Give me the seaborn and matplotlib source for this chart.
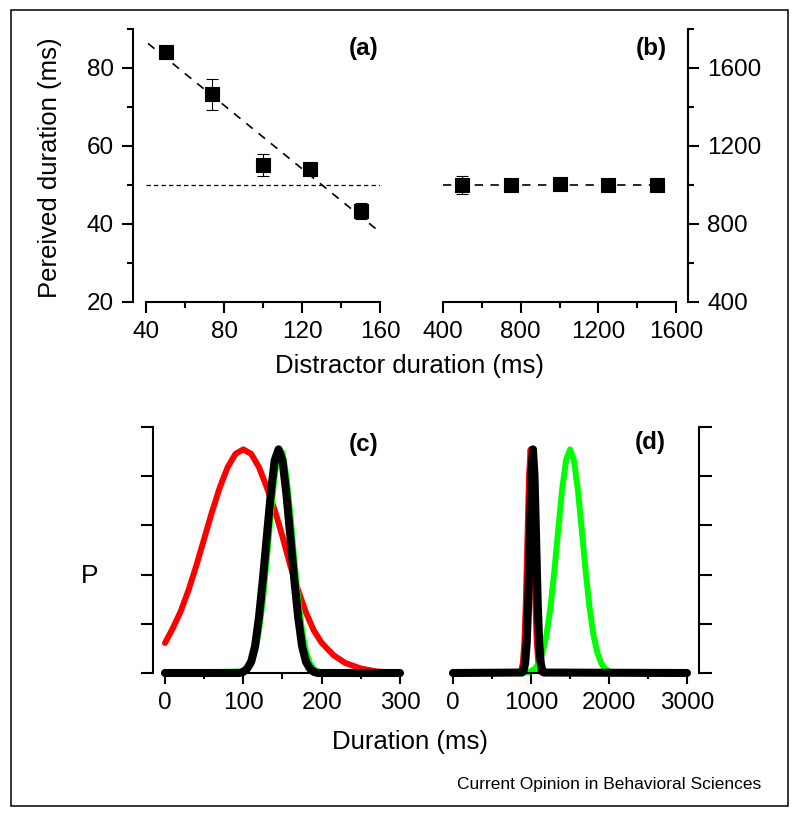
import matplotlib
matplotlib.use("Agg")
import matplotlib.pyplot as plt
import seaborn as sns
from matplotlib.patches import Rectangle
from matplotlib.ticker import MultipleLocator, FixedLocator

# ---- panel (a): short distractors ----
a_dist = [50, 74, 100, 124, 150]
a_perc = [84.2, 73.3, 55.1, 54.0, 43.3]
a_err = [1.0, 4.0, 2.8, 1.5, 2.0]
a_fit_x = [41, 160]
a_fit_y = [86.3, 37.9]
a_ref_x = [40, 160]
a_ref_y = [50, 50]

# ---- panel (b): long distractors ----
b_dist = [500, 750, 1000, 1250, 1500]
b_perc = [1000, 1000, 1005, 998, 1000]
b_err = [48, 10, 10, 12, 8]
b_fit_x = [400, 1545]
b_fit_y = [1000, 1000]

# ---- panel (c): distributions, short range ----
c_red_x = [0, 10, 20, 30, 40, 50, 60, 70, 80, 90, 100, 110, 120, 130, 140,
           150, 160, 170, 180, 190, 200, 215, 230, 250, 270, 300]
c_red_p = [0.134, 0.20, 0.275, 0.37, 0.48, 0.60, 0.72, 0.83, 0.92, 0.98, 1.0,
           0.98, 0.92, 0.83, 0.73, 0.61, 0.48, 0.37, 0.27, 0.19, 0.135, 0.08,
           0.045, 0.02, 0.007, 0.0]
c_green_x = [0, 100, 105, 110, 115, 120, 125, 130, 135, 140, 145, 150, 155,
             160, 165, 170, 175, 180, 185, 190, 195, 200, 300]
c_green_p = [0, 0.007, 0.018, 0.044, 0.096, 0.19, 0.325, 0.51, 0.71, 0.88,
             0.986, 0.986, 0.88, 0.71, 0.51, 0.325, 0.19, 0.096, 0.044, 0.018,
             0.007, 0, 0]
c_black_x = [0, 95, 100, 105, 110, 115, 120, 125, 130, 135, 140, 145, 150,
             155, 160, 165, 170, 175, 180, 185, 190, 195, 300]
c_black_p = [0, 0, 0.005, 0.02, 0.05, 0.12, 0.25, 0.42, 0.61, 0.80, 0.95, 1.0,
             0.95, 0.80, 0.61, 0.42, 0.25, 0.12, 0.05, 0.02, 0.005, 0, 0]

# ---- panel (d): distributions, long range ----
d_red_x = [0, 855, 875, 895, 915, 935, 955, 975, 995, 1015, 1035, 1055, 1075,
           1095, 1115, 1135, 3000]
d_red_p = [0, 0.002, 0.011, 0.044, 0.135, 0.325, 0.607, 0.883, 1.0, 0.883,
           0.607, 0.325, 0.135, 0.044, 0.011, 0.002, 0]
d_green_x = [0, 950, 1000, 1050, 1100, 1150, 1200, 1250, 1300, 1350, 1400,
             1450, 1500, 1550, 1600, 1650, 1700, 1750, 1800, 1850, 1900, 1950,
             2000, 2050, 3000]
d_green_p = [0, 0.003, 0.008, 0.019, 0.044, 0.092, 0.172, 0.295, 0.458, 0.644,
             0.823, 0.952, 1.0, 0.952, 0.823, 0.644, 0.458, 0.295, 0.172, 0.092,
             0.044, 0.019, 0.008, 0.003, 0]
d_black_x = [0, 885, 905, 925, 945, 965, 985, 1005, 1025, 1045, 1065, 1085,
             1105, 1125, 1145, 1165, 3000]
d_black_p = [0, 0.002, 0.011, 0.044, 0.135, 0.325, 0.607, 0.883, 1.0, 0.883,
             0.607, 0.325, 0.135, 0.044, 0.011, 0.002, 0]

sns.set_theme(style="ticks")
plt.rcParams['font.family'] = ['Liberation Sans', 'DejaVu Sans']
plt.rcParams['text.color'] = 'black'
plt.rcParams['axes.labelcolor'] = 'black'
plt.rcParams['xtick.color'] = 'black'
plt.rcParams['ytick.color'] = 'black'

W, H = 800, 818
fig = plt.figure(figsize=(W / 100, H / 100), dpi=100)


def px_axes(left, top, right, bottom):
    return fig.add_axes([left / W, 1 - bottom / H, (right - left) / W, (bottom - top) / H])


def style(ax, yside='left'):
    ax.set_facecolor('white')
    for s in ['top', 'right', 'left', 'bottom']:
        ax.spines[s].set_linewidth(1.5)
        ax.spines[s].set_color('black')
    ax.spines['top'].set_visible(False)
    if yside == 'left':
        ax.spines['right'].set_visible(False)
    else:
        ax.spines['left'].set_visible(False)
        ax.yaxis.tick_right()
    ax.tick_params(which='major', direction='out', length=8, width=1.5,
                   labelsize=17.5, pad=6, color='black', labelcolor='black')
    ax.tick_params(which='minor', direction='out', length=4.5, width=1.5, color='black')
    ax.grid(False)


# (a)
ax = px_axes(133, 29, 380, 302)
style(ax, 'left')
ax.set_xlim(33.3, 160)
ax.set_ylim(20, 90)
ax.spines['bottom'].set_bounds(40, 160)
ax.xaxis.set_major_locator(MultipleLocator(40))
ax.xaxis.set_minor_locator(FixedLocator([60, 100, 140]))
ax.yaxis.set_major_locator(FixedLocator([20, 40, 60, 80]))
ax.yaxis.set_minor_locator(FixedLocator([30, 50, 70, 90]))
sns.lineplot(x=a_ref_x, y=a_ref_y, color='black', linewidth=0.9,
             linestyle=(0, (3.5, 2.5)), ax=ax)
sns.lineplot(x=a_fit_x, y=a_fit_y, color='black', linewidth=1.2,
             linestyle=(0, (5, 4.5)), ax=ax)
ax.errorbar(a_dist, a_perc, yerr=a_err, fmt='none', ecolor='black',
            elinewidth=0.8, capsize=4.3, capthick=0.8, zorder=3)
sns.scatterplot(x=a_dist, y=a_perc, marker='s', s=100, color='black',
                edgecolor='black', ax=ax, zorder=4)

# (b)
ax = px_axes(443, 29, 688, 302)
style(ax, 'right')
ax.set_xlim(400, 1661.8)
ax.set_ylim(400, 1800)
ax.spines['bottom'].set_bounds(400, 1600)
ax.xaxis.set_major_locator(FixedLocator([400, 800, 1200, 1600]))
ax.xaxis.set_minor_locator(FixedLocator([600, 1000, 1400]))
ax.yaxis.set_major_locator(FixedLocator([400, 800, 1200, 1600]))
ax.yaxis.set_minor_locator(FixedLocator([600, 1000, 1400, 1800]))
sns.lineplot(x=b_fit_x, y=b_fit_y, color='black', linewidth=1.2,
             linestyle=(0, (5, 4.5)), ax=ax)
ax.errorbar(b_dist, b_perc, yerr=b_err, fmt='none', ecolor='black',
            elinewidth=0.8, capsize=4.3, capthick=0.8, zorder=3)
sns.scatterplot(x=b_dist, y=b_perc, marker='s', s=100, color='black',
                edgecolor='black', ax=ax, zorder=4)

# (c)
ax = px_axes(153, 427, 400, 673)
style(ax, 'left')
ax.set_xlim(-15.3, 300)
ax.set_ylim(0, 1.1)
ax.spines['bottom'].set_bounds(0, 300)
ax.xaxis.set_major_locator(FixedLocator([0, 100, 200, 300]))
ax.xaxis.set_minor_locator(FixedLocator([50, 150, 250]))
ax.yaxis.set_major_locator(FixedLocator([0, 0.22, 0.44, 0.66, 0.88, 1.1]))
ax.set_yticklabels([])
ax.tick_params(axis='y', length=9)
sns.lineplot(x=c_red_x, y=c_red_p, color='#ff0000', linewidth=4.3, ax=ax,
             clip_on=False, sort=False)
sns.lineplot(x=c_green_x, y=c_green_p, color='#00ff00', linewidth=4.3, ax=ax,
             clip_on=False, sort=False)
sns.lineplot(x=c_black_x, y=c_black_p, color='black', linewidth=5.8, ax=ax,
             clip_on=False, sort=False)

# (d)
ax = px_axes(453, 427, 699, 673)
style(ax, 'right')
ax.set_xlim(0, 3154)
ax.set_ylim(0, 1.1)
ax.spines['bottom'].set_bounds(0, 3000)
ax.xaxis.set_major_locator(FixedLocator([0, 1000, 2000, 3000]))
ax.xaxis.set_minor_locator(FixedLocator([500, 1500, 2500]))
ax.yaxis.set_major_locator(FixedLocator([0, 0.22, 0.44, 0.66, 0.88, 1.1]))
ax.set_yticklabels([])
ax.tick_params(axis='y', length=9)
sns.lineplot(x=d_red_x, y=d_red_p, color='#ff0000', linewidth=4.3, ax=ax,
             clip_on=False, sort=False)
sns.lineplot(x=d_green_x, y=d_green_p, color='#00ff00', linewidth=4.3, ax=ax,
             clip_on=False, sort=False)
sns.lineplot(x=d_black_x, y=d_black_p, color='black', linewidth=5.8, ax=ax,
             clip_on=False, sort=False)

# labels
fig.text(50 / W, 1 - 168 / H, "Pereived duration (ms)", rotation=90,
         ha='center', va='center', fontsize=18.5)
fig.text(410 / W, 1 - 366 / H, "Distractor duration (ms)", ha='center',
         va='center', fontsize=18.5)
fig.text(410 / W, 1 - 742 / H, "Duration (ms)", ha='center', va='center',
         fontsize=18.5)
fig.text(90 / W, 1 - 576 / H, "P", ha='center', va='center', fontsize=19)
for lab, xr, yc in [("(a)", 378, 49), ("(b)", 667, 49), ("(c)", 379, 445), ("(d)", 666, 443)]:
    fig.text(xr / W, 1 - yc / H, lab, ha='right', va='center', fontsize=17.5,
             fontweight='bold')
fig.text(761 / W, 1 - 784 / H, "Current Opinion in Behavioral Sciences",
         ha='right', va='center', fontsize=12.5)

fig.add_artist(Rectangle((11 / W, 1 - 806 / H), (788 - 11) / W, (806 - 10) / H,
                         transform=fig.transFigure, fill=False, lw=1.1,
                         edgecolor='black'))

fig.savefig("out.png", dpi=100)
